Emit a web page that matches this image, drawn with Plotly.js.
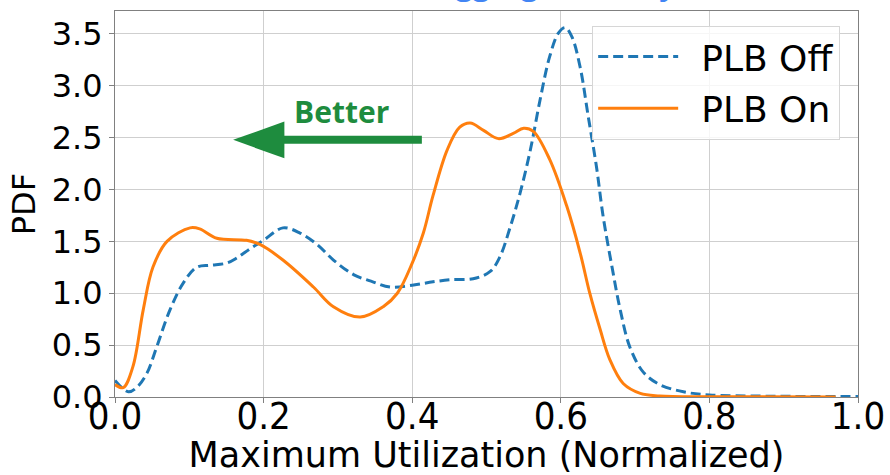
<!DOCTYPE html>
<html>
<head>
<meta charset="utf-8">
<script src="https://cdn.plot.ly/plotly-3.0.1.min.js"></script>
<style>html,body{margin:0;padding:0;background:#fff;}#chart{width:890px;height:475px;}</style>
</head>
<body>
<div id="chart"></div>
<script>
// PLB Off (dashed blue)
var offX = [0, 0.018, 0.029, 0.043, 0.056, 0.074, 0.092, 0.110, 0.128, 0.150, 0.164, 0.182, 0.200, 0.226, 0.249, 0.272, 0.294, 0.321, 0.347, 0.370, 0.402, 0.428, 0.451, 0.482, 0.505, 0.518, 0.532, 0.545, 0.559, 0.572, 0.585, 0.597, 0.606, 0.615, 0.626, 0.637, 0.648, 0.657, 0.669, 0.680, 0.693, 0.711, 0.733, 0.765, 0.800, 0.877, 1.0];
var offY = [0.16, 0.05, 0.09, 0.23, 0.48, 0.84, 1.10, 1.25, 1.27, 1.29, 1.34, 1.43, 1.51, 1.63, 1.58, 1.47, 1.32, 1.18, 1.11, 1.06, 1.08, 1.11, 1.13, 1.14, 1.21, 1.35, 1.64, 1.96, 2.38, 2.86, 3.28, 3.51, 3.56, 3.47, 3.18, 2.70, 2.22, 1.74, 1.25, 0.84, 0.48, 0.24, 0.12, 0.05, 0.02, 0.008, 0.005];
// PLB On (solid orange)
var onX = [0, 0.011, 0.024, 0.038, 0.051, 0.070, 0.101, 0.114, 0.137, 0.177, 0.195, 0.226, 0.267, 0.294, 0.330, 0.361, 0.380, 0.400, 0.415, 0.428, 0.447, 0.464, 0.478, 0.496, 0.516, 0.536, 0.550, 0.563, 0.585, 0.608, 0.626, 0.639, 0.653, 0.666, 0.684, 0.707, 0.733, 0.800, 0.970];
var onY = [0.12, 0.09, 0.29, 0.84, 1.25, 1.50, 1.63, 1.62, 1.53, 1.51, 1.47, 1.32, 1.06, 0.87, 0.77, 0.87, 1.00, 1.29, 1.58, 1.94, 2.38, 2.60, 2.64, 2.57, 2.49, 2.54, 2.59, 2.56, 2.29, 1.84, 1.39, 1.00, 0.65, 0.36, 0.13, 0.035, 0.01, 0.002, 0.001];

var seriesNames = ["PLB Off", "PLB On"];
var xTickVals = [0, 0.2, 0.4, 0.6, 0.8, 1.0];
var xTickText = ["0.0", "0.2", "0.4", "0.6", "0.8", "1.0"];
var yTickVals = [0, 0.5, 1.0, 1.5, 2.0, 2.5, 3.0, 3.5];
var yTickText = ["0.0", "0.5", "1.0", "1.5", "2.0", "2.5", "3.0", "3.5"];

var pad = "\u2002";
var traces = [
  {x: offX, y: offY, name: pad + seriesNames[0], mode: "lines", legendgroup: "a",
   line: {color: "#1f77b4", width: 3, dash: "10px,5px", shape: "spline", smoothing: 1}},
  {x: onX, y: onY, name: pad + seriesNames[1], mode: "lines", legendgroup: "b",
   line: {color: "#ff7f0e", width: 3, shape: "spline", smoothing: 1}}
];

var green = "#1e8c3e";
var layout = {
  width: 890, height: 475,
  margin: {l: 115, r: 32, t: 11, b: 78},
  paper_bgcolor: "#fff", plot_bgcolor: "#fff",
  font: {family: "DejaVu Sans", color: "#000"},
  showlegend: true,
  legend: {x: 0.976, y: 0.962, xanchor: "right", yanchor: "top",
    bgcolor: "rgba(255,255,255,0.8)", bordercolor: "#d6d6d6", borderwidth: 1,
    font: {size: 36, family: "DejaVu Sans"}, itemwidth: 80, tracegroupgap: 2},
  xaxis: {range: [0, 1], tickvals: xTickVals, ticktext: xTickText,
    tickfont: {size: 38, family: "DejaVu Sans Condensed"}, ticklabelstandoff: -20,
    showgrid: true, gridcolor: "#cfcfcf", gridwidth: 1,
    showline: true, linecolor: "#808080", linewidth: 1, mirror: true,
    ticks: "outside", ticklen: 5, tickcolor: "#808080", zeroline: false,
    title: {text: "Maximum Utilization (Normalized)", font: {size: 35}, standoff: 2}},
  yaxis: {range: [0, 3.72], tickvals: yTickVals, ticktext: yTickText,
    tickfont: {size: 32},
    showgrid: true, gridcolor: "#cfcfcf", gridwidth: 1,
    showline: true, linecolor: "#808080", linewidth: 1, mirror: true,
    ticks: "outside", ticklen: 5, tickcolor: "#808080", zeroline: false,
    title: {text: "PDF", font: {size: 32}, standoff: 6}},
  shapes: [
    {type: "line", xref: "x", yref: "y", x0: 0.226, x1: 0.413, y0: 2.478, y1: 2.478,
     line: {color: green, width: 8}},
    {type: "path", xref: "x", yref: "y",
     path: "M 0.159 2.478 L 0.228 2.655 L 0.228 2.30 Z",
     fillcolor: green, line: {color: green, width: 0}}
  ],
  annotations: [
    {text: "<b>Better</b>", xref: "x", yref: "y", x: 0.305, y: 2.75, showarrow: false,
     font: {family: "Open Sans", size: 30, color: green}},
    {text: "<b>Aggregation Layer</b>", xref: "paper", yref: "paper", x: 0.614, y: 1.014,
     xanchor: "center", yanchor: "bottom", showarrow: false,
     font: {family: "Open Sans", size: 30, color: "#4285f4"}}
  ]
};

Plotly.newPlot("chart", traces, layout, {staticPlot: true, displayModeBar: false});
</script>
</body>
</html>
